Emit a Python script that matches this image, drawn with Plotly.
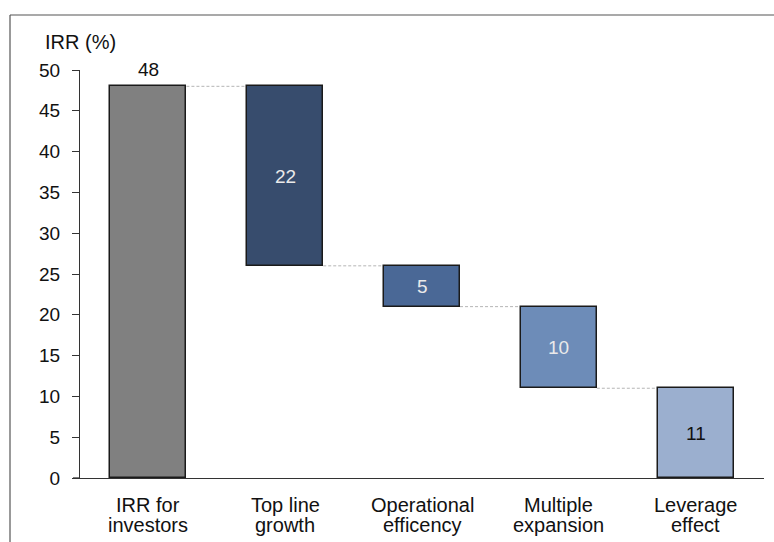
import plotly.graph_objects as go

# IRR bridge: total return followed by its value-creation drivers
categories = ["IRR for<br>investors", "Top line<br>growth", "Operational<br>efficency",
              "Multiple<br>expansion", "Leverage<br>effect"]
total_irr = 48
driver_values = [22, 5, 10, 11]
bar_colors = ["#808080", "#374C6D", "#4A6896", "#6D8CB8", "#9BAFCF"]
label_colors = ["#111111", "#EAEAEA", "#EAEAEA", "#EAEAEA", "#111111"]
y_ticks = [0, 5, 10, 15, 20, 25, 30, 35, 40, 45, 50]

FONT = "Liberation Sans, Arial, sans-serif"

W, H = 774, 542
M = dict(l=80, r=10, t=70, b=64)
PW = W - M["l"] - M["r"]
PH = H - M["t"] - M["b"]


def px_x(p):
    """pixel column -> paper x"""
    return (p - M["l"]) / PW


def px_y(p):
    """pixel row -> paper y"""
    return (H - M["b"] - p) / PH


# heights and bases of the floating bars
heights = [total_irr] + driver_values
bases = [0]
level = total_irr
for v in driver_values:
    level -= v
    bases.append(level)
tops = [b + h for b, h in zip(bases, heights)]

BAR_W = 0.556
x_idx = list(range(len(categories)))

fig = go.Figure()
fig.add_trace(go.Bar(
    x=x_idx, y=heights, base=bases, width=BAR_W,
    marker=dict(color=bar_colors, line=dict(color="#1a1a1a", width=1.5)),
    hoverinfo="skip", showlegend=False,
))

shapes = []
# dashed connectors between consecutive bars
for i in range(len(categories) - 1):
    lvl = tops[0] if i == 0 else bases[i]
    shapes.append(dict(type="line", xref="x", yref="y",
                       x0=i + BAR_W / 2, x1=i + 1 - BAR_W / 2, y0=lvl, y1=lvl,
                       line=dict(color="#b5b5b5", width=1, dash="3px,2px"), layer="below"))

# outer frame (top and left edges)
shapes.append(dict(type="line", xref="paper", yref="paper", x0=px_x(10), x1=px_x(780),
                   y0=px_y(15), y1=px_y(15), line=dict(color="#555555", width=1.2)))
shapes.append(dict(type="line", xref="paper", yref="paper", x0=px_x(10), x1=px_x(10),
                   y0=px_y(15), y1=px_y(550), line=dict(color="#555555", width=1.2)))
# x-axis line extends slightly left of the y-axis
shapes.append(dict(type="line", xref="paper", yref="y", x0=px_x(73), x1=0, y0=0, y1=0,
                   line=dict(color="#333333", width=1.3)))

annotations = []
for i, (h, b) in enumerate(zip(heights, bases)):
    if i == 0:
        annotations.append(dict(x=i, y=b + h, xref="x", yref="y", text=str(h),
                                showarrow=False, yanchor="middle", yshift=17,
                                font=dict(family=FONT, size=19, color=label_colors[i])))
    else:
        annotations.append(dict(x=i, y=b + h / 2, xref="x", yref="y", text=str(h),
                                showarrow=False, yanchor="middle",
                                font=dict(family=FONT, size=19, color=label_colors[i])))

# category labels, two lines each
for i, cat in enumerate(categories):
    for j, line in enumerate(cat.split("<br>")):
        annotations.append(dict(x=i, y=px_y(505 + 20 * j), xref="x", yref="paper",
                                text=line, showarrow=False, yanchor="middle",
                                font=dict(family=FONT, size=20, color="#111111")))

annotations.append(dict(x=px_x(43), y=px_y(42), xref="paper", yref="paper", text="IRR (%)",
                        showarrow=False, xanchor="left", yanchor="middle",
                        font=dict(family=FONT, size=20, color="#111111")))

fig.update_layout(
    width=W, height=H,
    margin=M,
    paper_bgcolor="white", plot_bgcolor="white",
    font=dict(family=FONT, size=19, color="#111111"),
    shapes=shapes, annotations=annotations,
    bargap=0,
    xaxis=dict(range=[-0.5, len(categories) - 0.5], tickvals=x_idx, showticklabels=False,
               showline=True, linecolor="#333333", linewidth=1.3, ticks="",
               showgrid=False, zeroline=False, automargin=False),
    yaxis=dict(range=[0, 50], tickvals=y_ticks, showline=True, linecolor="#333333",
               linewidth=1.3, ticks="outside", ticklen=7, tickcolor="#333333", tickwidth=1.3,
               showgrid=False, zeroline=False, ticklabelstandoff=8, automargin=False,
               tickfont=dict(family=FONT, size=19, color="#111111")),
)

fig.write_html("out.html")
